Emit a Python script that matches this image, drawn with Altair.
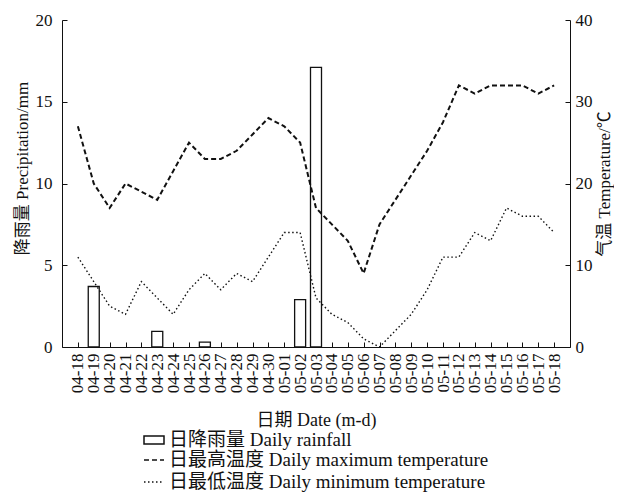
import altair as alt
import pandas as pd

dates = ["04-18", "04-19", "04-20", "04-21", "04-22", "04-23", "04-24", "04-25",
         "04-26", "04-27", "04-28", "04-29", "04-30", "05-01", "05-02", "05-03",
         "05-04", "05-05", "05-06", "05-07", "05-08", "05-09", "05-10", "05-11",
         "05-12", "05-13", "05-14", "05-15", "05-16", "05-17", "05-18"]
rain = [0, 3.7, 0, 0, 0, 0.95, 0, 0, 0.3, 0, 0, 0, 0, 0, 2.9, 17.1,
        0, 0, 0, 0, 0, 0, 0, 0, 0, 0, 0, 0, 0, 0, 0]
tmax = [27, 20, 17, 20, 19, 18, 21.5, 25, 23, 23, 24, 26, 28,
        27, 25, 17, 15, 13, 9, 15, 18, 21, 24, 27.5, 32, 31, 32, 32, 32, 31, 32]
tmin = [11, 8, 5, 4, 8, 6, 4, 7, 9, 7, 9, 8, 11,
        14, 14, 6, 4, 3, 1, 0, 2, 4, 7, 11, 11, 14, 13, 17, 16, 16, 14]

rain_label = "日降雨量 Daily rainfall"
max_label = "日最高温度 Daily maximum temperature"
min_label = "日最低温度 Daily minimum temperature"

rain_df = pd.DataFrame({"date": dates, "rain": rain, "s": rain_label})
temp_df = pd.concat([
    pd.DataFrame({"date": dates, "value": tmax, "series": max_label}),
    pd.DataFrame({"date": dates, "value": tmin, "series": min_label}),
])

FONT = "Liberation Serif, Noto Sans CJK SC"
INK = "#111111"

x_enc = alt.X(
    "date:O",
    sort=dates,
    scale=alt.Scale(type="point", padding=1, domain=dates),
    axis=alt.Axis(
        title="日期 Date (m-d)", labelAngle=-90, tickSize={"expr": "-5"},
        labelPadding=11, titlePadding=19, labelFontSize=17, titleFontSize=18,
        domainColor=INK, tickColor=INK, labelColor=INK, titleColor=INK,
        titleFontWeight="normal", grid=False,
    ),
)

bars = alt.Chart(rain_df).transform_filter("datum.rain > 0").mark_bar(
    size=11, stroke=INK, strokeWidth=1.3
).encode(
    x=x_enc,
    y=alt.Y(
        "rain:Q",
        scale=alt.Scale(domain=[0, 20]),
        axis=alt.Axis(
            title="降雨量 Precipitation/mm", values=[0, 5, 10, 15, 20], grid=False,
            tickSize={"expr": "-5"}, labelPadding=15, titlePadding=4, titleY=148,
            labelFontSize=17, titleFontSize=17, domainColor=INK, tickColor=INK,
            labelColor=INK, titleColor=INK, titleFontWeight="normal",
        ),
    ),
    fill=alt.Fill(
        "s:N",
        scale=alt.Scale(domain=[rain_label], range=["white"]),
        legend=alt.Legend(
            title=None, orient="none", legendX=81, legendY=409,
            symbolType="M-1,-0.4L1,-0.4L1,0.4L-1,0.4Z", symbolSize=400,
            symbolStrokeColor=INK, symbolStrokeWidth=1.5, labelFontSize=19,
            labelOffset=4, padding=0, labelColor=INK, labelLimit=0,
        ),
    ),
)

lines = alt.Chart(temp_df).mark_line(color=INK).encode(
    x=x_enc,
    y=alt.Y(
        "value:Q",
        scale=alt.Scale(domain=[0, 40]),
        axis=alt.Axis(
            title="气温 Temperature/℃", orient="right", values=[0, 10, 20, 30, 40],
            grid=False, tickSize={"expr": "-5"}, labelPadding=10, titlePadding=4,
            titleAngle=270, titleBaseline="top", labelFontSize=17, titleFontSize=17,
            domainColor=INK, tickColor=INK, labelColor=INK, titleColor=INK,
            titleFontWeight="normal",
        ),
    ),
    strokeDash=alt.StrokeDash(
        "series:N",
        scale=alt.Scale(domain=[max_label, min_label], range=[[5, 3], [1.5, 2.5]]),
        legend=alt.Legend(
            title=None, orient="none", legendX=81, legendY=429,
            symbolType="stroke", symbolSize=400, symbolStrokeColor=INK,
            symbolStrokeWidth=1.7, labelFontSize=19, labelOffset=4, padding=0,
            rowPadding=1, labelColor=INK, labelLimit=0,
        ),
    ),
    strokeWidth=alt.StrokeWidth(
        "series:N",
        scale=alt.Scale(domain=[max_label, min_label], range=[2.0, 1.4]),
        legend=None,
    ),
)

chart = alt.layer(bars, lines).resolve_scale(
    y="independent", fill="independent", strokeDash="independent"
).properties(
    width=508, height=327,
    autosize=alt.AutoSizeParams(type="none"),
    padding={"left": 54, "top": 12, "right": 44, "bottom": 147},
).configure(
    font=FONT,
).configure_view(
    stroke=None,
).configure_legend(
    labelFont=FONT,
).configure_axis(
    labelFont=FONT, titleFont=FONT,
)

chart.save("out.html", embed_options={"renderer": "svg", "actions": False})
